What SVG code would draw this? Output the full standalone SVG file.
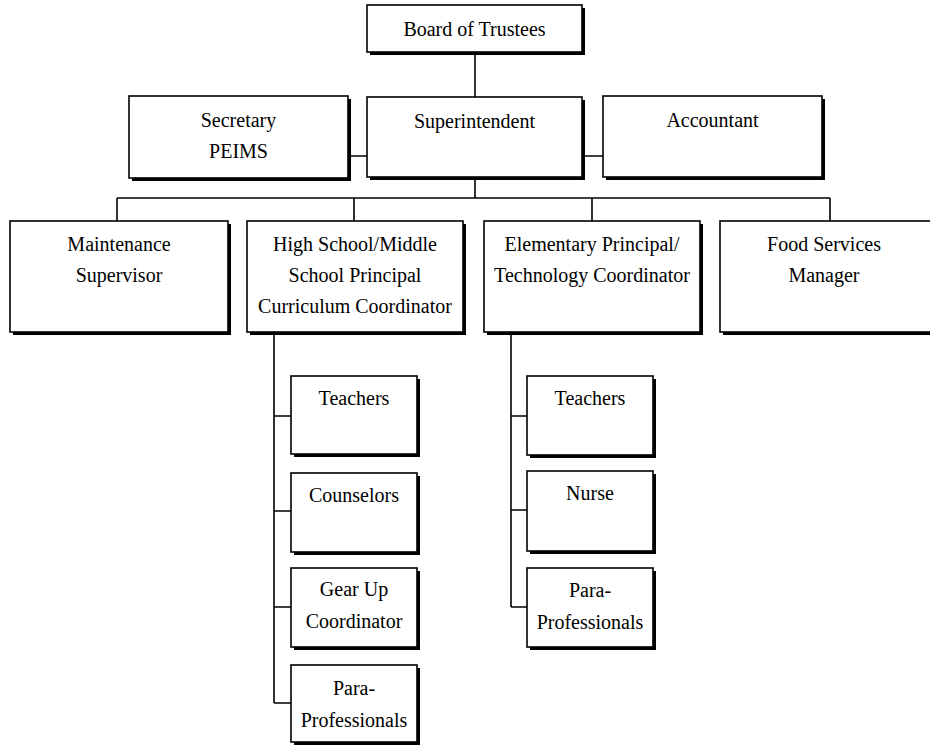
<svg xmlns="http://www.w3.org/2000/svg" width="930" height="747" viewBox="0 0 930 747">
<style>
.sh{fill:#000}
.bx{fill:#fff;stroke:#000;stroke-width:1.6}
.t{font-family:"Liberation Serif","Times New Roman",serif;font-size:20px;fill:#000;text-anchor:middle}
.ln{stroke:#000;stroke-width:1.6;fill:none}
</style>
<rect width="930" height="747" fill="#fff"/>
<g id="connectors">
<path class="ln" d="M475 52V97"/>
<path class="ln" d="M348 156H367M582 156H603"/>
<path class="ln" d="M475 177V198M117 198H830M117 198V221M354 198V221M592 198V221M830 198V221"/>
<path class="ln" d="M274 332V703M274 416H291M274 511H291M274 607H291M274 703H291"/>
<path class="ln" d="M511 332V607M511 416H527M511 510H527M511 607H527"/>
</g>
<g id="board"><rect class="sh" x="370" y="8" width="215" height="47"/><rect class="bx" x="367" y="5" width="215" height="47"/><text class="t" x="474.5" y="36">Board of Trustees</text></g>
<g id="superintendent"><rect class="sh" x="370" y="100" width="215" height="80"/><rect class="bx" x="367" y="97" width="215" height="80"/><text class="t" x="474.5" y="128">Superintendent</text></g>
<g id="secretary"><rect class="sh" x="132" y="99" width="219" height="82"/><rect class="bx" x="129" y="96" width="219" height="82"/><text class="t" x="238.5" y="127">Secretary</text><text class="t" x="238.5" y="158">PEIMS</text></g>
<g id="accountant"><rect class="sh" x="606" y="99" width="219" height="81"/><rect class="bx" x="603" y="96" width="219" height="81"/><text class="t" x="712.5" y="127">Accountant</text></g>
<g id="maintenance"><rect class="sh" x="13" y="224" width="218" height="111"/><rect class="bx" x="10" y="221" width="218" height="111"/><text class="t" x="119" y="251">Maintenance</text><text class="t" x="119" y="282">Supervisor</text></g>
<g id="hs-principal"><rect class="sh" x="250" y="224" width="216" height="111"/><rect class="bx" x="247" y="221" width="216" height="111"/><text class="t" x="355" y="251">High School/Middle</text><text class="t" x="355" y="282">School Principal</text><text class="t" x="355" y="313">Curriculum Coordinator</text></g>
<g id="elem-principal"><rect class="sh" x="487" y="224" width="216" height="111"/><rect class="bx" x="484" y="221" width="216" height="111"/><text class="t" x="592" y="251">Elementary Principal/</text><text class="t" x="592" y="282">Technology Coordinator</text></g>
<g id="food-services"><rect class="sh" x="723" y="224" width="220" height="111"/><rect class="bx" x="720" y="221" width="220" height="111"/><text class="t" x="824" y="251">Food Services</text><text class="t" x="824" y="282">Manager</text></g>
<g id="hs-teachers"><rect class="sh" x="294" y="379" width="126" height="78"/><rect class="bx" x="291" y="376" width="126" height="78"/><text class="t" x="354" y="405">Teachers</text></g>
<g id="hs-counselors"><rect class="sh" x="294" y="476" width="126" height="79"/><rect class="bx" x="291" y="473" width="126" height="79"/><text class="t" x="354" y="502">Counselors</text></g>
<g id="hs-gearup"><rect class="sh" x="294" y="571" width="126" height="79"/><rect class="bx" x="291" y="568" width="126" height="79"/><text class="t" x="354" y="596">Gear Up</text><text class="t" x="354" y="628">Coordinator</text></g>
<g id="hs-para"><rect class="sh" x="294" y="668" width="126" height="77"/><rect class="bx" x="291" y="665" width="126" height="77"/><text class="t" x="354" y="695">Para-</text><text class="t" x="354" y="727">Professionals</text></g>
<g id="el-teachers"><rect class="sh" x="530" y="379" width="126" height="79"/><rect class="bx" x="527" y="376" width="126" height="79"/><text class="t" x="590" y="405">Teachers</text></g>
<g id="el-nurse"><rect class="sh" x="530" y="474" width="126" height="80"/><rect class="bx" x="527" y="471" width="126" height="80"/><text class="t" x="590" y="500">Nurse</text></g>
<g id="el-para"><rect class="sh" x="530" y="571" width="126" height="79"/><rect class="bx" x="527" y="568" width="126" height="79"/><text class="t" x="590" y="597">Para-</text><text class="t" x="590" y="629">Professionals</text></g>
</svg>
